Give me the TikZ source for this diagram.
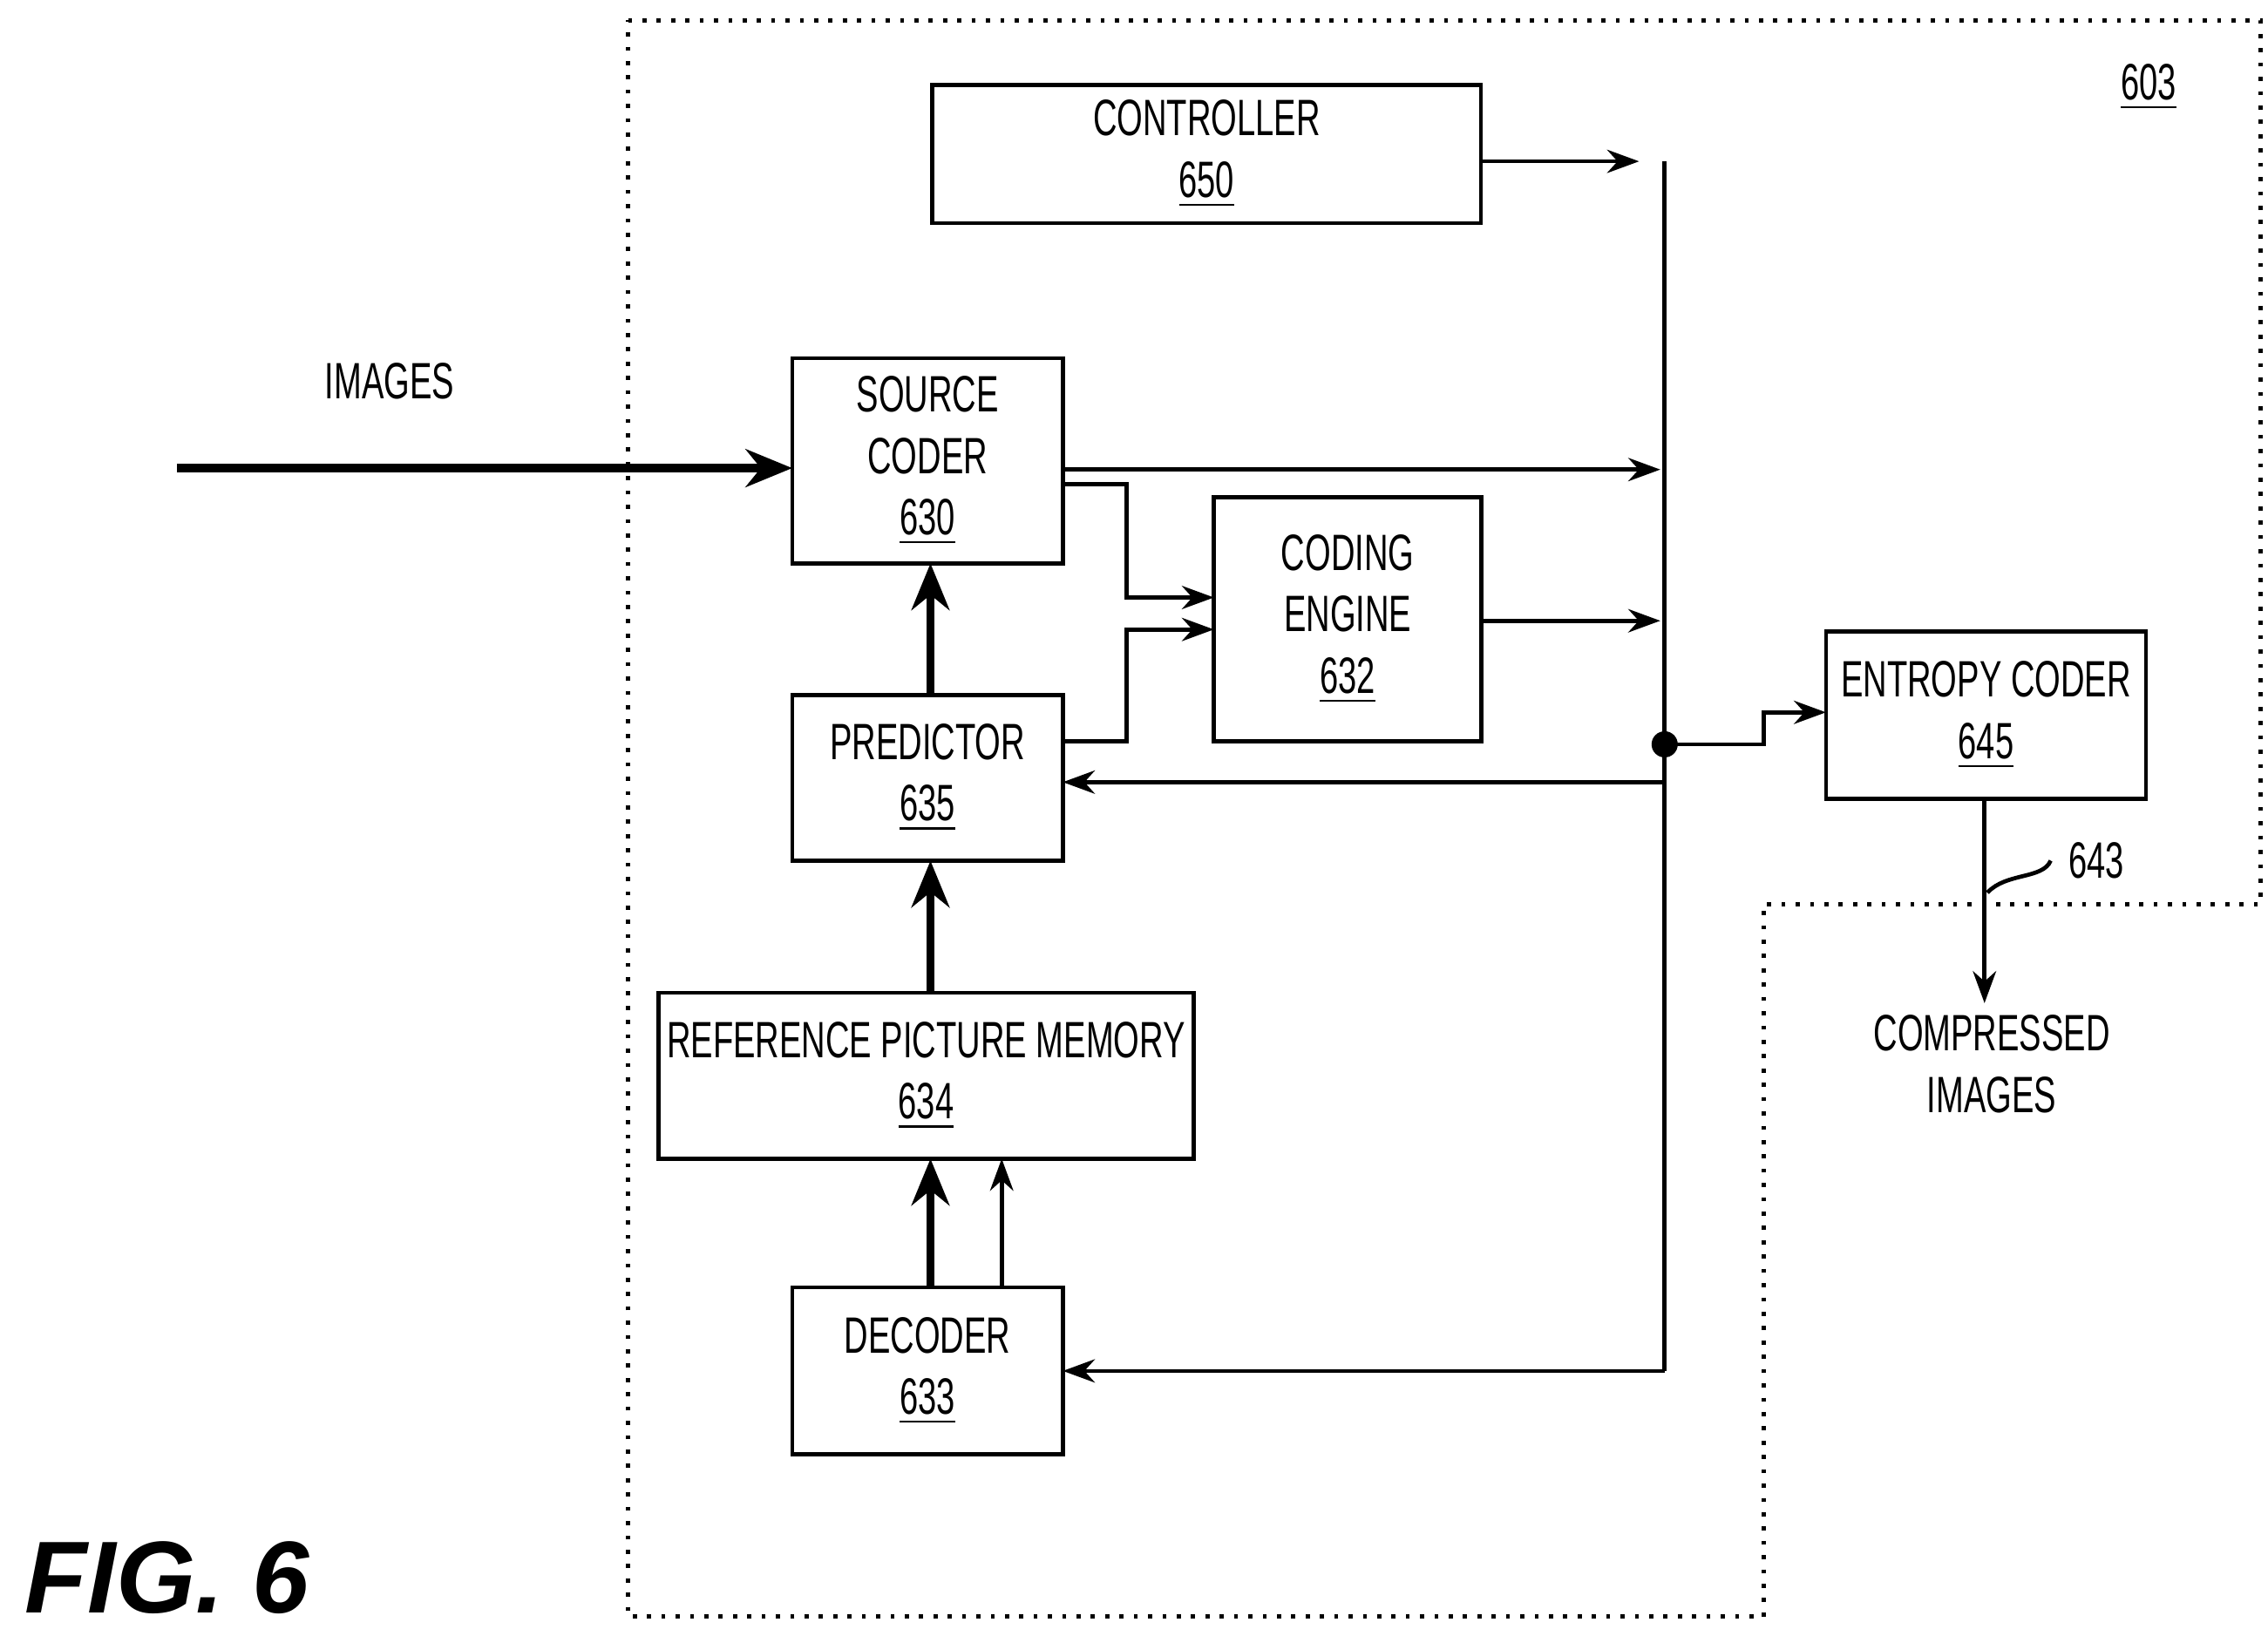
\documentclass[tikz,border=0pt]{standalone}
\usepackage{fontspec}
\setmainfont{Liberation Sans}[FakeStretch=0.65]
\newfontfamily\figfont{Liberation Sans}
\usetikzlibrary{positioning,arrows.meta}

\begin{document}
\begin{tikzpicture}[x=0.01cm,y=-0.01cm,
    font=\fontsize{10}{12}\selectfont,
 mybox/.style = {
        draw, thick, rectangle, align=center, inner sep=0pt, outer sep=0pt},
  thin arrow/.style = {thick,-{Stealth[length=2.2mm,width=1.6mm]}},
 thick arrow/.style = {line width=1.6pt,-{Stealth[length=3.2mm,width=2.6mm]}}
                    ]
\useasboundingbox (0,0) rectangle (1560,1125);
% the dotted boundary
\draw[dotted,thick] (432,14) -- (1555,14) -- (1555,622) -- (1213,622)
                    -- (1213,1112) -- (432,1112) -- cycle;
\node (n603) at (1478,60) {\underline{603}};
% the boxes
\node (ctrl) [mybox, minimum width=3.77cm, minimum height=0.95cm]
        at (830,106) {CONTROLLER\\ \underline{650}};
\node (src)  [mybox, minimum width=1.86cm, minimum height=1.41cm]
        at (638,317) {SOURCE\\CODER\\ \underline{630}};
\node (eng)  [mybox, minimum width=1.84cm, minimum height=1.68cm]
        at (927,426) {CODING\\ENGINE\\ \underline{632}};
\node (pred) [mybox, minimum width=1.86cm, minimum height=1.14cm]
        at (638,535) {PREDICTOR\\ \underline{635}};
\node (mem)  [mybox, minimum width=3.68cm, minimum height=1.14cm]
        at (637,740) {REFERENCE PICTURE MEMORY\\ \underline{634}};
\node (dec)  [mybox, minimum width=1.86cm, minimum height=1.15cm]
        at (638,943) {DECODER\\ \underline{633}};
\node (ent)  [mybox, minimum width=2.20cm, minimum height=1.15cm]
        at (1366,492) {ENTROPY CODER\\ \underline{645}};
% the bus
\coordinate (btop) at (1145,111);
\coordinate (bbot) at (1145,943);
\coordinate (dot)  at (1145,512);
\draw[thick] (btop) -- (bbot);
\fill (dot) circle (9);
% labels outside
\node (img)  at (268,262) {IMAGES};
\coordinate (imgin) at (122,322);
\node (cmp)  [align=center] at (1370,732) {COMPRESSED\\IMAGES};
\node (n643) at (1442,592) {643};
\node (fig)  at (115,1085) [font=\figfont\fontsize{20}{20}\selectfont\bfseries\itshape]
                           {FIG. 6};
% connectors
\draw[thick arrow] (imgin) -- (imgin -| src.west);
\draw[thin arrow] (ctrl.east |- btop) -- ([xshift=-5] btop);
\draw[thin arrow] (src.east |- 0,323) -- (1142,323);
\draw[thin arrow] (eng.east |- 0,427) -- (1142,427);
\draw[thin arrow] (src.east |- 0,333) -| (775,411) -- (eng.west |- 0,411);
\draw[thin arrow] (pred.east |- 0,510) -| (775,433) -- (eng.west |- 0,433);
\draw[thin arrow] (1145,538) -- (pred.east |- 0,538);
\draw[thin arrow] (bbot) -- (dec.east |- bbot);
\draw[thin arrow] (dot) -- (1213,512) -- (1213,490) -- (ent.west |- 0,490);
\draw[thick arrow] (pred.north -| 640,0) -- (src.south -| 640,0);
\draw[thick arrow] (mem.north -| 640,0) -- (pred.south -| 640,0);
\draw[thick arrow] (dec.north -| 640,0) -- (mem.south -| 640,0);
\draw[thin arrow] (dec.north -| 689,0) -- (mem.south -| 689,0);
\draw[thin arrow] (ent.south -| 1365,0) -- (1365,690);
\draw[thick] (1367,614) .. controls (1380,600) and (1405,605) .. (n643.west);
\end{tikzpicture}
\end{document}
